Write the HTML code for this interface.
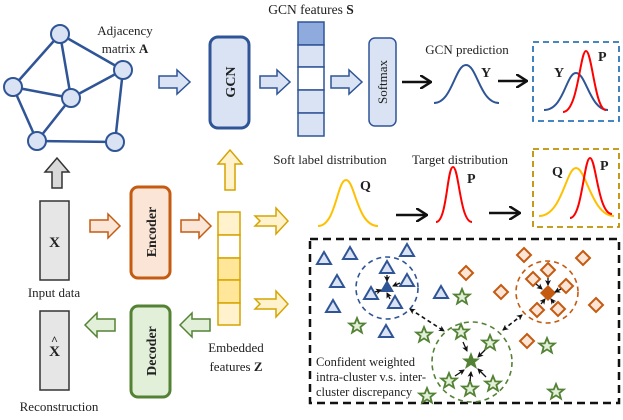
<!DOCTYPE html>
<html><head><meta charset="utf-8"><style>
html,body{margin:0;padding:0;background:#fff}
svg{display:block}
text{font-family:"Liberation Serif",serif;fill:#222}
</style></head><body>
<svg width="623" height="420" viewBox="0 0 623 420" xmlns="http://www.w3.org/2000/svg">
<defs>
<marker id="ah" markerWidth="6" markerHeight="6" refX="5" refY="3" orient="auto" markerUnits="userSpaceOnUse"><path d="M0,0 L6,3 L0,6 L1.5,3z" fill="#111"/></marker>
<marker id="ahs" markerWidth="6" markerHeight="6" refX="1" refY="3" orient="auto" markerUnits="userSpaceOnUse"><path d="M6,0 L0,3 L6,6 L4.5,3z" fill="#111"/></marker>
<marker id="bh" markerWidth="12" markerHeight="14" refX="10" refY="7" orient="auto" markerUnits="userSpaceOnUse"><path d="M0,0 L11,7 L0,14" fill="none" stroke="#111" stroke-width="2.5"/></marker>
<polygon id="tri" points="0,-7 7,5 -7,5" fill="#dae3f3" stroke="#2f5597" stroke-width="2"/>
<polygon id="dia" points="0,-7 7,0 0,7 -7,0" fill="#fbe5d6" stroke="#c55a11" stroke-width="2"/>
<polygon id="star" points="0,-8 2.2,-2.6 7.8,-2.5 3.4,1.1 4.9,6.6 0,3.4 -4.9,6.6 -3.4,1.1 -7.8,-2.5 -2.2,-2.6" fill="#e2f0d9" stroke="#548235" stroke-width="1.8"/>
</defs>

<!-- graph -->
<g stroke="#2f5597" stroke-width="2.5">
<line x1="60" y1="34" x2="13" y2="87"/><line x1="60" y1="34" x2="71" y2="98"/><line x1="60" y1="34" x2="123" y2="70"/>
<line x1="13" y1="87" x2="71" y2="98"/><line x1="13" y1="87" x2="37" y2="141"/><line x1="71" y1="98" x2="123" y2="70"/>
<line x1="71" y1="98" x2="37" y2="141"/><line x1="123" y1="70" x2="115" y2="142"/><line x1="37" y1="141" x2="115" y2="142"/>
</g>
<g fill="#dae3f3" stroke="#2f5597" stroke-width="2">
<circle cx="60" cy="34" r="9"/><circle cx="123" cy="70" r="9"/><circle cx="13" cy="87" r="9"/><circle cx="71" cy="98" r="9"/><circle cx="37" cy="141" r="9"/><circle cx="115" cy="142" r="9"/>
</g>
<text x="125" y="35" font-size="13" text-anchor="middle">Adjacency</text>
<text x="125" y="53" font-size="13" text-anchor="middle">matrix <tspan font-weight="bold">A</tspan></text>

<!-- block arrows -->
<g stroke-width="1.5">
<polygon points="159,76 177,76 177,70 190,82 177,94 177,88 159,88" fill="#dae3f3" stroke="#2f5597"/>
<polygon points="260,76 277,76 277,70 290,82 277,94 277,88 260,88" fill="#dae3f3" stroke="#2f5597"/>
<polygon points="331,76 349,76 349,70 362,82 349,94 349,88 331,88" fill="#dae3f3" stroke="#2f5597"/>
<polygon points="225,190 225,164 218,164 230,150 242,164 235,164 235,190" fill="#fff2cc" stroke="#d6a400"/>
<polygon points="52,188 52,172 45,172 57,158 69,172 62,172 62,188" fill="#d9d9d9" stroke="#333"/>
<polygon points="90,220 108,220 108,214 120,226 108,238 108,232 90,232" fill="#fbe5d6" stroke="#c55a11"/>
<polygon points="181,220 199,220 199,214 211,226 199,238 199,232 181,232" fill="#fbe5d6" stroke="#c55a11"/>
<polygon points="115,319 97,319 97,313 85,325 97,337 97,331 115,331" fill="#e2f0d9" stroke="#548235"/>
<polygon points="210,319 192,319 192,313 180,325 192,337 192,331 210,331" fill="#e2f0d9" stroke="#548235"/>
<polygon points="255,216 276,216 276,208 288,221 276,234 276,226 255,226 260,221" fill="#fff2cc" stroke="#d6a400"/>
<polygon points="255,299 276,299 276,291 288,304 276,317 276,309 255,309 260,304" fill="#fff2cc" stroke="#d6a400"/>
</g>

<!-- GCN -->
<rect x="210" y="37" width="39" height="91" rx="8" fill="#dae3f3" stroke="#2f5597" stroke-width="3"/>
<text transform="translate(235,82) rotate(-90)" font-size="14" font-weight="bold" text-anchor="middle">GCN</text>

<!-- S column -->
<text x="311" y="14" font-size="13.5" text-anchor="middle">GCN features <tspan font-weight="bold">S</tspan></text>
<g stroke="#2f5597" stroke-width="1.5">
<rect x="298" y="22" width="26" height="23" fill="#8faadc"/>
<rect x="298" y="45" width="26" height="22" fill="#dae3f3"/>
<rect x="298" y="67" width="26" height="23" fill="#fff"/>
<rect x="298" y="90" width="26" height="23" fill="#dae3f3"/>
<rect x="298" y="113" width="26" height="23" fill="#dae3f3"/>
</g>
<rect x="369" y="38" width="27" height="88" rx="6" fill="#dae3f3" stroke="#2f5597" stroke-width="1.5"/>
<text transform="translate(387,82) rotate(-90)" font-size="13" text-anchor="middle">Softmax</text>

<text x="467" y="54" font-size="13" text-anchor="middle">GCN prediction</text>
<line x1="402" y1="82" x2="430" y2="82" stroke="#111" stroke-width="2.5" marker-end="url(#bh)"/>
<path d="M434,103 C452,103 455,65 466,65 C477,65 480,103 499,103" fill="none" stroke="#2f5597" stroke-width="2"/>
<text x="481" y="77" font-size="14" font-weight="bold">Y</text>
<line x1="498" y1="81" x2="526" y2="81" stroke="#111" stroke-width="2.5" marker-end="url(#bh)"/>
<rect x="533" y="42" width="86" height="79" fill="none" stroke="#2e75b6" stroke-width="1.8" stroke-dasharray="6,4"/>
<path d="M544,110 C564,110 566,73 576,73 C586,73 590,110 608,110" fill="none" stroke="#2f5597" stroke-width="2"/>
<path d="M563,112 C578,112 580,51 586,51 C592,51 595,110 606,110" fill="none" stroke="#ff0000" stroke-width="2"/>
<text x="554" y="77" font-size="14" font-weight="bold">Y</text>
<text x="598" y="61" font-size="14" font-weight="bold">P</text>

<!-- second row -->
<text x="330" y="164" font-size="13" text-anchor="middle">Soft label distribution</text>
<text x="460" y="164" font-size="13" text-anchor="middle">Target distribution</text>
<path d="M318,226 C336,226 337,180 346,180 C355,180 357,226 378,226" fill="none" stroke="#ffc000" stroke-width="2"/>
<text x="360" y="190" font-size="14" font-weight="bold">Q</text>
<line x1="396" y1="215" x2="426" y2="215" stroke="#111" stroke-width="2.5" marker-end="url(#bh)"/>
<path d="M436,222 C447,222 447,167 453,167 C459,167 460,222 472,222" fill="none" stroke="#ff0000" stroke-width="2"/>
<text x="467" y="183" font-size="14" font-weight="bold">P</text>
<line x1="489" y1="213" x2="519" y2="213" stroke="#111" stroke-width="2.5" marker-end="url(#bh)"/>
<rect x="533" y="149" width="86" height="78" fill="none" stroke="#bf9000" stroke-width="1.8" stroke-dasharray="6,4"/>
<path d="M539,216 C562,216 566,168 576,168 C586,168 592,216 614,216" fill="none" stroke="#ffc000" stroke-width="2"/>
<path d="M570,218 C582,218 584,158 590,158 C596,158 598,214 612,214" fill="none" stroke="#ff0000" stroke-width="2"/>
<text x="552" y="176" font-size="14" font-weight="bold">Q</text>
<text x="600" y="170" font-size="14" font-weight="bold">P</text>

<!-- X boxes -->
<rect x="40" y="201" width="29" height="79" fill="#e7e6e6" stroke="#333" stroke-width="1.5"/>
<text x="54.5" y="247" font-size="15" font-weight="bold" text-anchor="middle">X</text>
<text x="54" y="297" font-size="13" text-anchor="middle">Input data</text>
<rect x="40" y="311" width="29" height="79" fill="#e7e6e6" stroke="#333" stroke-width="1.5"/>
<text x="54.5" y="356" font-size="15" font-weight="bold" text-anchor="middle">X</text>
<text x="54.5" y="344" font-size="12" font-weight="bold" text-anchor="middle">^</text>
<text x="59" y="411" font-size="13" text-anchor="middle">Reconstruction</text>

<!-- encoder/decoder -->
<rect x="131" y="187" width="39" height="91" rx="7" fill="#fbe5d6" stroke="#c55a11" stroke-width="3"/>
<text transform="translate(156,232) rotate(-90)" font-size="14" font-weight="bold" text-anchor="middle">Encoder</text>
<rect x="131" y="306" width="39" height="91" rx="7" fill="#e2f0d9" stroke="#548235" stroke-width="3"/>
<text transform="translate(156,351) rotate(-90)" font-size="14" font-weight="bold" text-anchor="middle">Decoder</text>

<g stroke="#d6a400" stroke-width="1.5">
<rect x="218" y="212" width="22" height="23" fill="#fff2cc"/>
<rect x="218" y="235" width="22" height="23" fill="#fff"/>
<rect x="218" y="258" width="22" height="22" fill="#ffe699"/>
<rect x="218" y="280" width="22" height="23" fill="#ffe699"/>
<rect x="218" y="303" width="22" height="22" fill="#fff2cc"/>
</g>
<text x="236" y="352" font-size="13" text-anchor="middle">Embedded</text>
<text x="236" y="371" font-size="13" text-anchor="middle">features <tspan font-weight="bold">Z</tspan></text>

<!-- cluster box -->
<rect x="310" y="239" width="309" height="164" fill="none" stroke="#111" stroke-width="2.5" stroke-dasharray="8,5"/>
<circle cx="387" cy="288" r="31" fill="none" stroke="#2f5597" stroke-width="1.6" stroke-dasharray="5,4"/>
<circle cx="472" cy="362" r="40" fill="none" stroke="#548235" stroke-width="1.6" stroke-dasharray="5,4"/>
<circle cx="547" cy="292" r="31" fill="none" stroke="#c55a11" stroke-width="1.6" stroke-dasharray="5,4"/>

<g>
<use href="#tri" x="324" y="259"/><use href="#tri" x="350" y="254"/><use href="#tri" x="407" y="251"/>
<use href="#tri" x="337" y="282"/><use href="#tri" x="387" y="268"/><use href="#tri" x="407" y="281"/>
<use href="#tri" x="371" y="294"/><use href="#tri" x="395" y="303"/><use href="#tri" x="333" y="307"/>
<use href="#tri" x="441" y="293"/><use href="#tri" x="386" y="332"/>
<polygon points="387,280 394,292 380,292" fill="#2f5597"/>
</g>
<g>
<use href="#dia" x="524" y="255"/><use href="#dia" x="583" y="258"/><use href="#dia" x="466" y="273"/>
<use href="#dia" x="501" y="292"/><use href="#dia" x="548" y="270"/><use href="#dia" x="533" y="279"/>
<use href="#dia" x="566" y="286"/><use href="#dia" x="537" y="310"/><use href="#dia" x="558" y="309"/>
<use href="#dia" x="596" y="305"/><use href="#dia" x="527" y="341"/>
<polygon points="548,285 556,293 548,301 540,293" fill="#c55a11"/>
</g>
<g>
<use href="#star" x="462" y="297"/><use href="#star" x="357" y="326"/><use href="#star" x="424" y="335"/>
<use href="#star" x="461" y="332"/><use href="#star" x="490" y="343"/><use href="#star" x="547" y="346"/>
<use href="#star" x="449" y="381"/><use href="#star" x="470" y="389"/><use href="#star" x="493" y="384"/>
<use href="#star" x="427" y="396"/><use href="#star" x="556" y="392"/>
<polygon points="471,352 473.5,358.5 480,358.5 475,362.5 477,369 471,365 465,369 467,362.5 462,358.5 468.5,358.5" fill="#548235"/>
</g>

<g stroke="#111" stroke-width="1.3" marker-end="url(#ah)">
<line x1="387" y1="275" x2="387" y2="281"/><line x1="400" y1="283" x2="393" y2="286"/>
<line x1="375" y1="292" x2="381" y2="290"/><line x1="390" y1="299" x2="387" y2="293"/>
<line x1="548" y1="278" x2="548" y2="285"/><line x1="536" y1="284" x2="542" y2="289"/>
<line x1="561" y1="289" x2="555" y2="292"/><line x1="541" y1="304" x2="545" y2="299"/><line x1="554" y1="303" x2="551" y2="299"/>
<line x1="463" y1="342" x2="467" y2="351"/><line x1="485" y1="350" x2="478" y2="357"/>
<line x1="455" y1="376" x2="464" y2="370"/><line x1="470" y1="381" x2="471" y2="372"/><line x1="486" y1="377" x2="478" y2="369"/>
</g>
<g stroke="#111" stroke-width="1.6" stroke-dasharray="4,3" marker-end="url(#ah)" marker-start="url(#ahs)">
<line x1="410" y1="309" x2="444" y2="331"/>
<line x1="503" y1="330" x2="522" y2="315"/>
</g>

<text x="316" y="366" font-size="12.5">Confident weighted</text>
<text x="316" y="381" font-size="12.5">intra-cluster v.s. inter-</text>
<text x="316" y="396" font-size="12.5">cluster discrepancy</text>
</svg>
</body></html>
